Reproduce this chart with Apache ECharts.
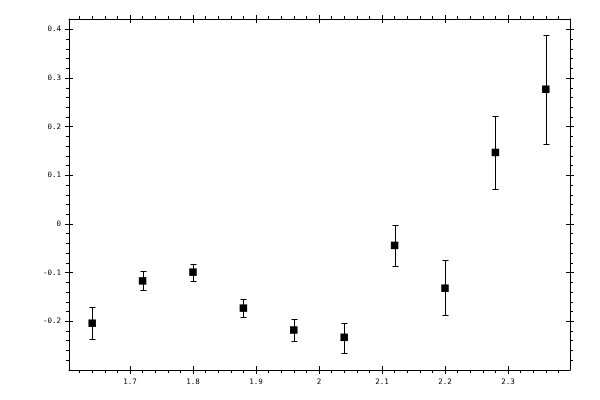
<!DOCTYPE html>
<html><head><meta charset="utf-8">
<script src="https://cdn.jsdelivr.net/npm/echarts@6/dist/echarts.min.js"></script>
<style>html,body{margin:0;padding:0;background:#fff}#c{width:600px;height:400px}</style>
</head><body><div id="c"></div>
<script>
const xValues = [1.64, 1.72, 1.80, 1.88, 1.96, 2.04, 2.12, 2.20, 2.28, 2.36];
const yValues = [-0.204, -0.117, -0.099, -0.173, -0.218, -0.233, -0.044, -0.132, 0.147, 0.277];
const yUpper  = [-0.171, -0.097, -0.082, -0.155, -0.196, -0.203, -0.003, -0.074, 0.223, 0.389];
const yLower  = [-0.237, -0.136, -0.117, -0.192, -0.241, -0.266, -0.087, -0.188, 0.071, 0.165];

const xTickLabels = [1.7, 1.8, 1.9, 2, 2.1, 2.2, 2.3];
const yTickLabels = [-0.2, -0.1, 0, 0.1, 0.2, 0.3, 0.4];
const xMinorTicks = [1.62, 1.64, 1.66, 1.68, 1.72, 1.74, 1.76, 1.78, 1.82, 1.84, 1.86, 1.88,
  1.92, 1.94, 1.96, 1.98, 2.02, 2.04, 2.06, 2.08, 2.12, 2.14, 2.16, 2.18,
  2.22, 2.24, 2.26, 2.28, 2.32, 2.34, 2.36, 2.38];
const yMinorTicks = [-0.28, -0.26, -0.24, -0.22, -0.18, -0.16, -0.14, -0.12, -0.08, -0.06, -0.04, -0.02,
  0.02, 0.04, 0.06, 0.08, 0.12, 0.14, 0.16, 0.18, 0.22, 0.24, 0.26, 0.28, 0.32, 0.34, 0.36, 0.38];

const xRange = [1.6032, 2.3984];
const yRange = [-0.3002, 0.4214];

const black = '#000';
const labelFont = { fontFamily: 'DejaVu Sans Mono', fontSize: 7.5, color: black };
const fmt = v => String(+(+v).toFixed(2));

function makeAxis(dim, position, kind, withLabels) {
  const range = dim === 'x' ? xRange : yRange;
  const majors = dim === 'x' ? xTickLabels : yTickLabels;
  const minors = dim === 'x' ? xMinorTicks : yMinorTicks;
  const ax = {
    type: 'value', gridIndex: 0, position: position,
    min: range[0], max: range[1], scale: true,
    splitLine: { show: false },
    axisLine: { show: kind === 'minor', onZero: false, lineStyle: { color: black, width: 1 } },
    axisTick: {
      show: true,
      inside: kind === 'majorIn',
      length: kind === 'minor' ? 3 : 4,
      customValues: kind === 'minor' ? minors : majors,
      lineStyle: { color: black, width: 1 }
    },
    axisLabel: withLabels ? Object.assign({
      show: true, customValues: majors, formatter: fmt,
      margin: 8
    }, labelFont) : { show: false },
    axisPointer: { show: false }
  };
  return ax;
}

const xAxes = [
  makeAxis('x', 'bottom', 'minor', false),
  makeAxis('x', 'bottom', 'majorOut', true),
  makeAxis('x', 'bottom', 'majorIn', false),
  makeAxis('x', 'top', 'minor', false),
  makeAxis('x', 'top', 'majorOut', false),
  makeAxis('x', 'top', 'majorIn', false)
];
const yAxes = [
  makeAxis('y', 'left', 'minor', false),
  makeAxis('y', 'left', 'majorOut', true),
  makeAxis('y', 'left', 'majorIn', false),
  makeAxis('y', 'right', 'minor', false),
  makeAxis('y', 'right', 'majorOut', false),
  makeAxis('y', 'right', 'majorIn', false)
];

const pointData = xValues.map((x, i) => [x, yValues[i]]);
const errData = xValues.map((x, i) => [x, yLower[i], yUpper[i]]);

const chart = echarts.init(document.getElementById('c'), null, { renderer: 'canvas' });
chart.setOption({
  animation: false,
  backgroundColor: '#fff',
  grid: { left: 69, top: 19, width: 501, height: 351, containLabel: false },
  xAxis: xAxes,
  yAxis: yAxes,
  series: [
    {
      type: 'custom', xAxisIndex: 0, yAxisIndex: 0,
      data: errData, encode: { x: 0, y: [1, 2] }, z: 2,
      renderItem: function (params, api) {
        const lo = api.coord([api.value(0), api.value(1)]);
        const hi = api.coord([api.value(0), api.value(2)]);
        const cx = Math.round(lo[0]) + 0.5;
        const ly = Math.round(lo[1]) + 0.5, hy = Math.round(hi[1]) + 0.5;
        const st = { stroke: black, lineWidth: 1 };
        return {
          type: 'group', children: [
            { type: 'line', shape: { x1: cx, y1: ly, x2: cx, y2: hy }, style: st },
            { type: 'line', shape: { x1: cx - 3, y1: ly, x2: cx + 3, y2: ly }, style: st },
            { type: 'line', shape: { x1: cx - 3, y1: hy, x2: cx + 3, y2: hy }, style: st }
          ]
        };
      }
    },
    {
      type: 'scatter', xAxisIndex: 0, yAxisIndex: 0, z: 3,
      data: pointData, symbol: 'rect', symbolSize: 7.5,
      itemStyle: { color: black, opacity: 1 },
      emphasis: { disabled: true }
    }
  ]
});
</script>
</body></html>
